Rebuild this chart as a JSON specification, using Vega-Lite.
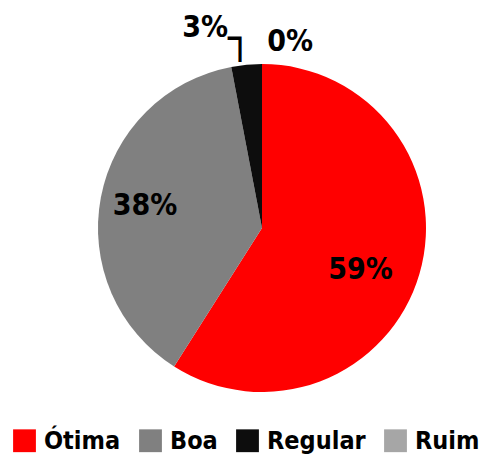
{
  "$schema": "https://vega.github.io/schema/vega-lite/v6.json",
  "width": 460,
  "height": 400,
  "autosize": {"type": "none"},
  "padding": {"left": 32, "top": 28, "right": 0, "bottom": 33},
  "background": "white",
  "data": {
    "values": [
      {"categoria": "Ótima", "valor": 59, "i": 1, "rotulo": "59%"},
      {"categoria": "Boa", "valor": 38, "i": 2, "rotulo": "38%"},
      {"categoria": "Regular", "valor": 3, "i": 3, "rotulo": "3%"},
      {"categoria": "Ruim", "valor": 0, "i": 4, "rotulo": "0%"}
    ]
  },
  "encoding": {
    "theta": {"field": "valor", "type": "quantitative", "stack": true},
    "order": {"field": "i", "type": "quantitative"}
  },
  "layer": [
    {
      "mark": {"type": "arc", "outerRadius": 164},
      "encoding": {
        "color": {
          "field": "categoria",
          "type": "nominal",
          "scale": {"domain": ["Ótima", "Boa", "Regular", "Ruim"], "range": ["#FF0000", "#808080", "#0D0D0D", "#A6A6A6"]},
          "legend": {
            "orient": "none",
            "legendX": -20,
            "legendY": 400,
            "direction": "horizontal",
            "title": null,
            "symbolType": "square",
            "symbolSize": 520,
            "symbolStrokeWidth": 0,
            "labelFont": "DejaVu Sans Condensed",
            "labelFontWeight": "bold",
            "labelFontSize": 25,
            "labelColor": "black",
            "labelOffset": 7,
            "columnPadding": 17
          }
        }
      }
    },
    {
      "mark": {"type": "text", "radius": 107, "thetaOffset": 0.12, "font": "DejaVu Sans Condensed", "fontWeight": "bold", "fontSize": 30, "color": "black", "baseline": "middle"},
      "encoding": {
        "text": {"condition": {"test": "datum.categoria === 'Ótima'", "field": "rotulo"}, "value": ""}
      }
    },
    {
      "mark": {"type": "text", "radius": 119, "font": "DejaVu Sans Condensed", "fontWeight": "bold", "fontSize": 30, "color": "black", "baseline": "middle"},
      "encoding": {
        "text": {"condition": {"test": "datum.categoria === 'Boa'", "field": "rotulo"}, "value": ""}
      }
    },
    {
      "mark": {"type": "text", "radius": 208, "thetaOffset": -0.183, "font": "DejaVu Sans Condensed", "fontWeight": "bold", "fontSize": 30, "color": "black", "baseline": "middle"},
      "encoding": {
        "text": {"condition": {"test": "datum.categoria === 'Regular'", "field": "rotulo"}, "value": ""}
      }
    },
    {
      "mark": {"type": "text", "radius": 189, "thetaOffset": -0.023, "font": "DejaVu Sans Mono", "fontSize": 40, "color": "black", "baseline": "middle"},
      "encoding": {
        "text": {"condition": {"test": "datum.categoria === 'Regular'", "value": "┐"}, "value": ""}
      }
    },
    {
      "mark": {"type": "text", "radius": 188, "thetaOffset": 0.15, "font": "DejaVu Sans Condensed", "fontWeight": "bold", "fontSize": 30, "color": "black", "baseline": "middle"},
      "encoding": {
        "text": {"condition": {"test": "datum.categoria === 'Ruim'", "field": "rotulo"}, "value": ""}
      }
    }
  ],
  "config": {"view": {"stroke": null}}
}
